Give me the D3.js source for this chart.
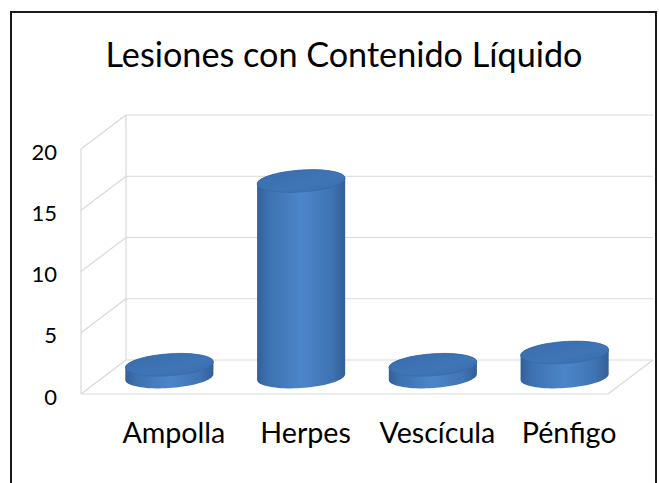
<!DOCTYPE html>
<html>
<head>
<meta charset="utf-8">
<script src="https://cdn.jsdelivr.net/npm/d3@7"></script>
<style>
  body { margin: 0; background: #fff; }
  svg { display: block; font-family: Lato, "Open Sans", sans-serif; }
</style>
</head>
<body>
<div id="chart"></div>
<script>
const title = "Lesiones con Contenido Líquido";
const categories = ["Ampolla", "Herpes", "Vescícula", "Pénfigo"];
const values = [1, 16, 1, 2];
const yTicks = [0, 5, 10, 15, 20];

const W = 659, H = 483;
const svg = d3.select("#chart").append("svg")
  .attr("width", W)
  .attr("height", H);

// outer frame (bottom edge falls outside the picture)
svg.append("rect")
  .attr("x", 11).attr("y", 12)
  .attr("width", 645).attr("height", 500)
  .attr("fill", "#fff")
  .attr("stroke", "#1a1a1a")
  .attr("stroke-width", 2);

// 3D layout: front plane plus a depth offset
const depth = {dx: 45, dy: -34};
const x = d3.scaleBand().domain(categories).range([81, 608]);
const y = d3.scaleLinear().domain([0, 20]).range([394, 149]);

const grid = svg.append("g")
  .attr("stroke", "#d9d9d9")
  .attr("stroke-width", 1.2)
  .attr("fill", "none");

// back wall gridlines
grid.selectAll(".back").data(yTicks).join("line")
  .attr("x1", x.range()[0] + depth.dx)
  .attr("x2", x.range()[1] + depth.dx)
  .attr("y1", d => y(d) + depth.dy)
  .attr("y2", d => y(d) + depth.dy);

// side wall diagonals
grid.selectAll(".side").data(yTicks).join("line")
  .attr("x1", x.range()[0])
  .attr("x2", x.range()[0] + depth.dx)
  .attr("y1", d => y(d))
  .attr("y2", d => y(d) + depth.dy);

// wall edges and floor
grid.append("line")
  .attr("x1", x.range()[0]).attr("x2", x.range()[0])
  .attr("y1", y(0)).attr("y2", y(20));
grid.append("line")
  .attr("x1", x.range()[0] + depth.dx).attr("x2", x.range()[0] + depth.dx)
  .attr("y1", y(0) + depth.dy).attr("y2", y(20) + depth.dy);
grid.append("line")
  .attr("x1", x.range()[0]).attr("x2", x.range()[1])
  .attr("y1", y(0)).attr("y2", y(0));
grid.append("line")
  .attr("x1", x.range()[1]).attr("x2", x.range()[1] + depth.dx)
  .attr("y1", y(0)).attr("y2", y(0) + depth.dy);

// y tick labels
svg.append("g").selectAll("text").data(yTicks).join("text")
  .attr("x", 57)
  .attr("y", d => y(d) + 2)
  .attr("text-anchor", "end")
  .attr("dominant-baseline", "central")
  .attr("font-size", 22)
  .attr("fill", "#000")
  .text(d => d);

// gradients for the cylinders
const defs = svg.append("defs");
const bodyGrad = defs.append("linearGradient").attr("id", "body")
  .attr("x1", 0).attr("x2", 1).attr("y1", 0).attr("y2", 0);
[["0%", "#335f98"], ["12%", "#3d71b0"], ["50%", "#4c86ca"], ["85%", "#3f73b3"], ["100%", "#345f97"]]
  .forEach(([o, c]) => bodyGrad.append("stop").attr("offset", o).attr("stop-color", c));
const capGrad = defs.append("linearGradient").attr("id", "cap")
  .attr("x1", 0).attr("x2", 1).attr("y1", 0).attr("y2", 1);
[["0%", "#3a6cab"], ["60%", "#3f75b6"], ["100%", "#3a6ba9"]]
  .forEach(([o, c]) => capGrad.append("stop").attr("offset", o).attr("stop-color", c));

const theta = -4 * Math.PI / 180;
const rx = x.bandwidth() * 0.335;
const ry = 11;
const t0 = Math.atan(-ry * Math.sin(theta) / (rx * Math.cos(theta)));

function ellipsePt(cx, cy, t) {
  return [
    cx + rx * Math.cos(t) * Math.cos(theta) - ry * Math.sin(t) * Math.sin(theta),
    cy + rx * Math.cos(t) * Math.sin(theta) + ry * Math.sin(t) * Math.cos(theta)
  ];
}
function arc(cx, cy, a, b) {
  return d3.range(0, 41).map(i => ellipsePt(cx, cy, a + (b - a) * i / 40));
}

const line = d3.line();
const bars = svg.append("g");
categories.forEach((cat, i) => {
  const cx = x(cat) + x.bandwidth() / 2 + depth.dx / 2;
  const cyBase = y(0) + depth.dy / 2;
  const cyTop = y(values[i]) + depth.dy / 2;
  const body = arc(cx, cyTop, t0 + Math.PI, t0 + 2 * Math.PI)
    .concat(arc(cx, cyBase, t0, t0 + Math.PI));
  bars.append("path")
    .attr("d", line(body) + "Z")
    .attr("fill", "url(#body)");
  bars.append("path")
    .attr("d", line(arc(cx, cyTop, 0, 2 * Math.PI)) + "Z")
    .attr("fill", "url(#cap)")
    .attr("stroke", "#3566a3")
    .attr("stroke-width", 0.6);
});

// category labels
const labels = svg.append("g").selectAll("text").data(categories).join("text")
  .attr("x", d => x(d) + x.bandwidth() / 2 + 27)
  .attr("y", 443)
  .attr("text-anchor", "middle")
  .attr("font-size", 28)
  .attr("fill", "#000")
  .text(d => d);
// fit the label size to the width seen for "Ampolla"
const aw = labels.filter(d => d === "Ampolla").node().getComputedTextLength();
labels.attr("font-size", 28 * 103 / aw);

// title
const t = svg.append("text")
  .attr("x", 344)
  .attr("y", 67)
  .attr("text-anchor", "middle")
  .attr("font-size", 34)
  .attr("fill", "#000")
  .text(title);
t.attr("font-size", 34 * 477 / t.node().getComputedTextLength());
</script>
</body>
</html>
